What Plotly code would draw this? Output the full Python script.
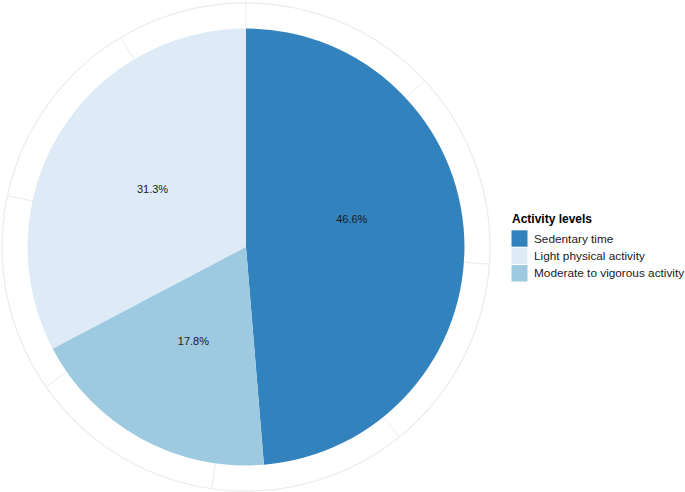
import plotly.graph_objects as go

# Data
categories = ['Sedentary time', 'Light physical activity', 'Moderate to vigorous activity']
values = [46.6, 31.3, 17.8]
colors = ['#3182BD', '#DEEBF7', '#9ECAE1']
# clockwise drawing order of the slices (from 12 o'clock)
stack_order = ['Sedentary time', 'Moderate to vigorous activity', 'Light physical activity']
grid_breaks = [0, 12.5, 25, 37.5, 50, 62.5, 75, 87.5]
legend_title = 'Activity levels'

W, H = 685, 492
total = sum(values)
deg = 360 / total

# start angle of each slice
start = {}
acc = 0
for name in stack_order:
    start[name] = acc
    acc += values[categories.index(name)]

fig = go.Figure()

for name, val, col in zip(categories, values, colors):
    fig.add_trace(go.Barpolar(
        r=[1],
        theta=[(start[name] + val / 2) * deg],
        width=[val * deg],
        marker=dict(color=col, line=dict(width=0)),
        name=name,
        hoverinfo='name',
        showlegend=False,
    ))

# percentage labels (the sedentary one sits a bit higher in the original)
label_theta = [(start[n] + v / 2) * deg for n, v in zip(categories, values)]
label_theta[0] -= 12
fig.add_trace(go.Scatterpolar(
    r=[0.5] * len(values),
    theta=label_theta,
    mode='text',
    text=[f'{v:.1f}%' for v in values],
    textfont=dict(family='Liberation Sans, Arial', size=11, color='#1a1a1a'),
    showlegend=False,
    hoverinfo='skip',
))

# legend drawn by hand (ggplot-style keys: large squares, tight rows)
px = lambda x: x / W
py = lambda y: 1 - y / H
fig.add_annotation(x=px(510), y=py(218.5), xref='paper', yref='paper',
                   text=f'<b>{legend_title}</b>', showarrow=False,
                   xanchor='left', yanchor='middle',
                   font=dict(size=12, color='#000000'))
for i, (name, col) in enumerate(zip(categories, colors)):
    yc = 238.5 + 17.4 * i
    fig.add_shape(type='rect', xref='paper', yref='paper',
                  x0=px(511.5), x1=px(527.5), y0=py(yc - 8.2), y1=py(yc + 8.2),
                  fillcolor=col, line=dict(width=0))
    fig.add_annotation(x=px(531.5), y=py(yc), xref='paper', yref='paper',
                       text=name, showarrow=False,
                       xanchor='left', yanchor='middle',
                       font=dict(size=11.8, color='#1a1a1a'))

fig.update_layout(
    width=W, height=H,
    margin=dict(l=0, r=0, t=0, b=0, autoexpand=False),
    paper_bgcolor='white',
    font=dict(family='Liberation Sans, Arial', color='#1a1a1a'),
    showlegend=False,
    polar=dict(
        domain=dict(x=[2 / W, 490 / W], y=[1 / H, 489 / H]),
        bgcolor='white',
        bargap=0,
        hole=0,
        radialaxis=dict(range=[0, 1.117], showgrid=False, showline=False,
                        showticklabels=False, ticks=''),
        angularaxis=dict(rotation=90, direction='clockwise',
                         tickvals=[b * deg for b in grid_breaks],
                         showticklabels=False, ticks='',
                         showgrid=True, gridcolor='#EBEBEB', gridwidth=1.2,
                         showline=True, linecolor='#EBEBEB', linewidth=1.2),
    ),
)

# drop the default page margin so the figure sits at the window's corner
fig.write_html('out.html', config={'displayModeBar': False},
               post_script="document.body.style.margin='0';")
